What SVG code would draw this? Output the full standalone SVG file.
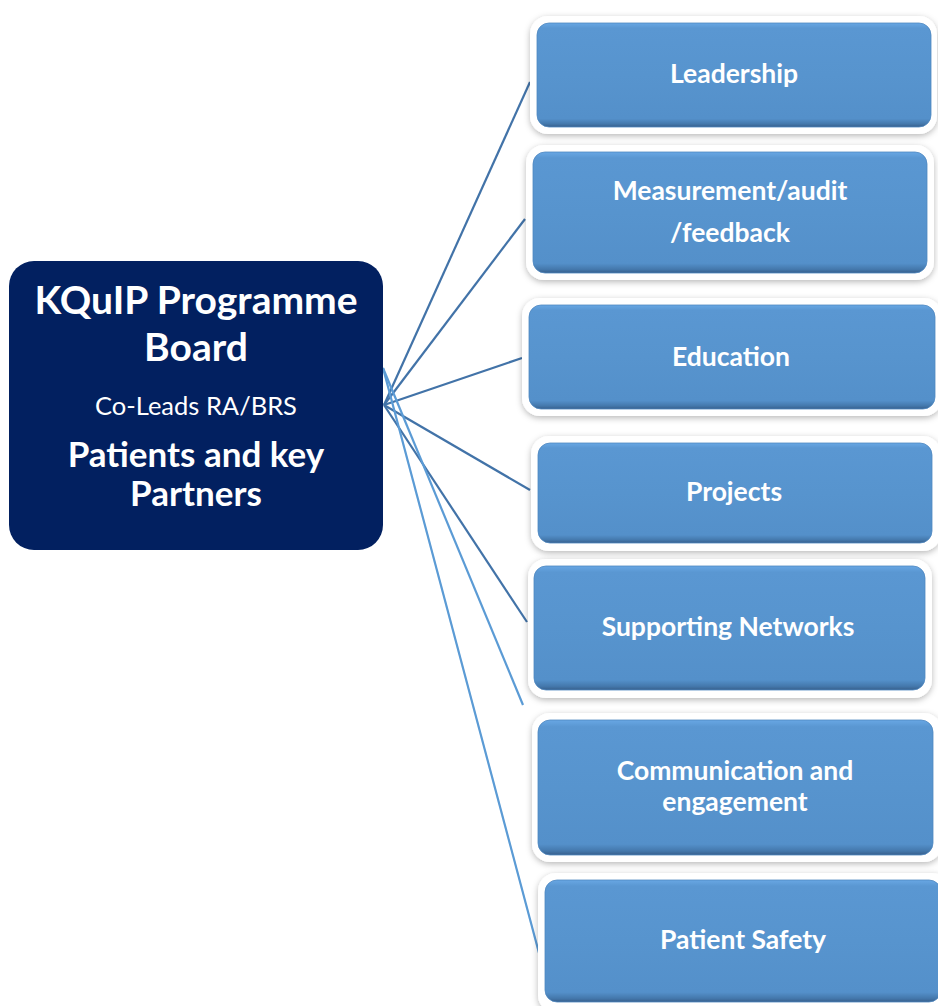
<svg xmlns="http://www.w3.org/2000/svg" width="938" height="1006" viewBox="0 0 938 1006">
<defs>
<linearGradient id="blueG" x1="0" y1="0" x2="0" y2="1">
<stop offset="0" stop-color="#68a7e4"/>
<stop offset="0.05" stop-color="#5a97d2"/>
<stop offset="0.5" stop-color="#5794ce"/>
<stop offset="0.92" stop-color="#5490ca"/>
<stop offset="0.97" stop-color="#4478ac"/>
<stop offset="1" stop-color="#375f8c"/>
</linearGradient>
<filter id="sh" x="-10%" y="-20%" width="120%" height="150%">
<feDropShadow dx="0" dy="2" stdDeviation="3" flood-color="#000" flood-opacity="0.28"/>
</filter>
</defs>
<style>
.frame{fill:#ffffff;filter:url(#sh);}
.box{fill:url(#blueG);stroke:#4f88c0;stroke-width:0.8;}
.lbl{font-family:Lato,"Open Sans",sans-serif;font-weight:700;font-size:26.5px;fill:#ffffff;text-anchor:middle;}
.dark{stroke:#4273a8;stroke-width:2.2;fill:none;}
.light{stroke:#5b9bd5;stroke-width:2.2;fill:none;}
.ttl{font-family:Lato,"Open Sans",sans-serif;font-weight:700;fill:#ffffff;text-anchor:middle;}
</style>
<rect width="938" height="1006" fill="#ffffff"/>
<g id="connectors">
<line class="dark" x1="384" y1="405" x2="530" y2="82"/>
<line class="dark" x1="384" y1="405" x2="525" y2="219"/>
<line class="dark" x1="384" y1="405" x2="522" y2="358"/>
<line class="dark" x1="384" y1="405" x2="530" y2="490"/>
<line class="dark" x1="384" y1="405" x2="527" y2="622"/>
<line class="light" x1="383" y1="368" x2="523" y2="705"/>
<line class="light" x1="383" y1="368" x2="543" y2="968"/>
</g>
<g id="board">
<rect x="9" y="261" width="374" height="289" rx="25" fill="#022060"/>
<text class="ttl" x="196" y="314" font-size="39">KQuIP Programme</text>
<text class="ttl" x="196" y="361" font-size="39">Board</text>
<text x="196" y="415" font-family="Lato,'Open Sans',sans-serif" font-size="25.5" fill="#ffffff" text-anchor="middle">Co-Leads RA/BRS</text>
<text class="ttl" x="196" y="467" font-size="35">Patients and key</text>
<text class="ttl" x="196" y="506" font-size="35">Partners</text>
</g>
<g id="leadership">
<rect class="frame" x="530" y="16" width="407" height="118" rx="18"/>
<rect class="box" x="537" y="23" width="394" height="104" rx="12"/>
<text class="lbl" x="734" y="83">Leadership</text>
</g>
<g id="measurement">
<rect class="frame" x="526" y="145" width="408" height="135" rx="18"/>
<rect class="box" x="533" y="152" width="394" height="121" rx="12"/>
<text class="lbl" x="730" y="200">Measurement/audit</text>
<text class="lbl" x="730" y="242">/feedback</text>
</g>
<g id="education">
<rect class="frame" x="522" y="298" width="420" height="118" rx="18"/>
<rect class="box" x="529" y="305" width="406" height="104" rx="12"/>
<text class="lbl" x="731" y="366">Education</text>
</g>
<g id="projects">
<rect class="frame" x="531" y="436" width="410" height="115" rx="18"/>
<rect class="box" x="538" y="443" width="394" height="100" rx="12"/>
<text class="lbl" x="734" y="501">Projects</text>
</g>
<g id="networks">
<rect class="frame" x="528" y="559" width="404" height="139" rx="18"/>
<rect class="box" x="534" y="566" width="391" height="124" rx="12"/>
<text class="lbl" x="728" y="636">Supporting Networks</text>
</g>
<g id="communication">
<rect class="frame" x="532" y="713" width="410" height="149" rx="18"/>
<rect class="box" x="538" y="720" width="395" height="135" rx="12"/>
<text class="lbl" x="735" y="780">Communication and</text>
<text class="lbl" x="735" y="811">engagement</text>
</g>
<g id="safety">
<rect class="frame" x="538" y="873" width="412" height="140" rx="18"/>
<rect class="box" x="545" y="880" width="396" height="122" rx="12"/>
<text class="lbl" x="743" y="949">Patient Safety</text>
</g>
</svg>
